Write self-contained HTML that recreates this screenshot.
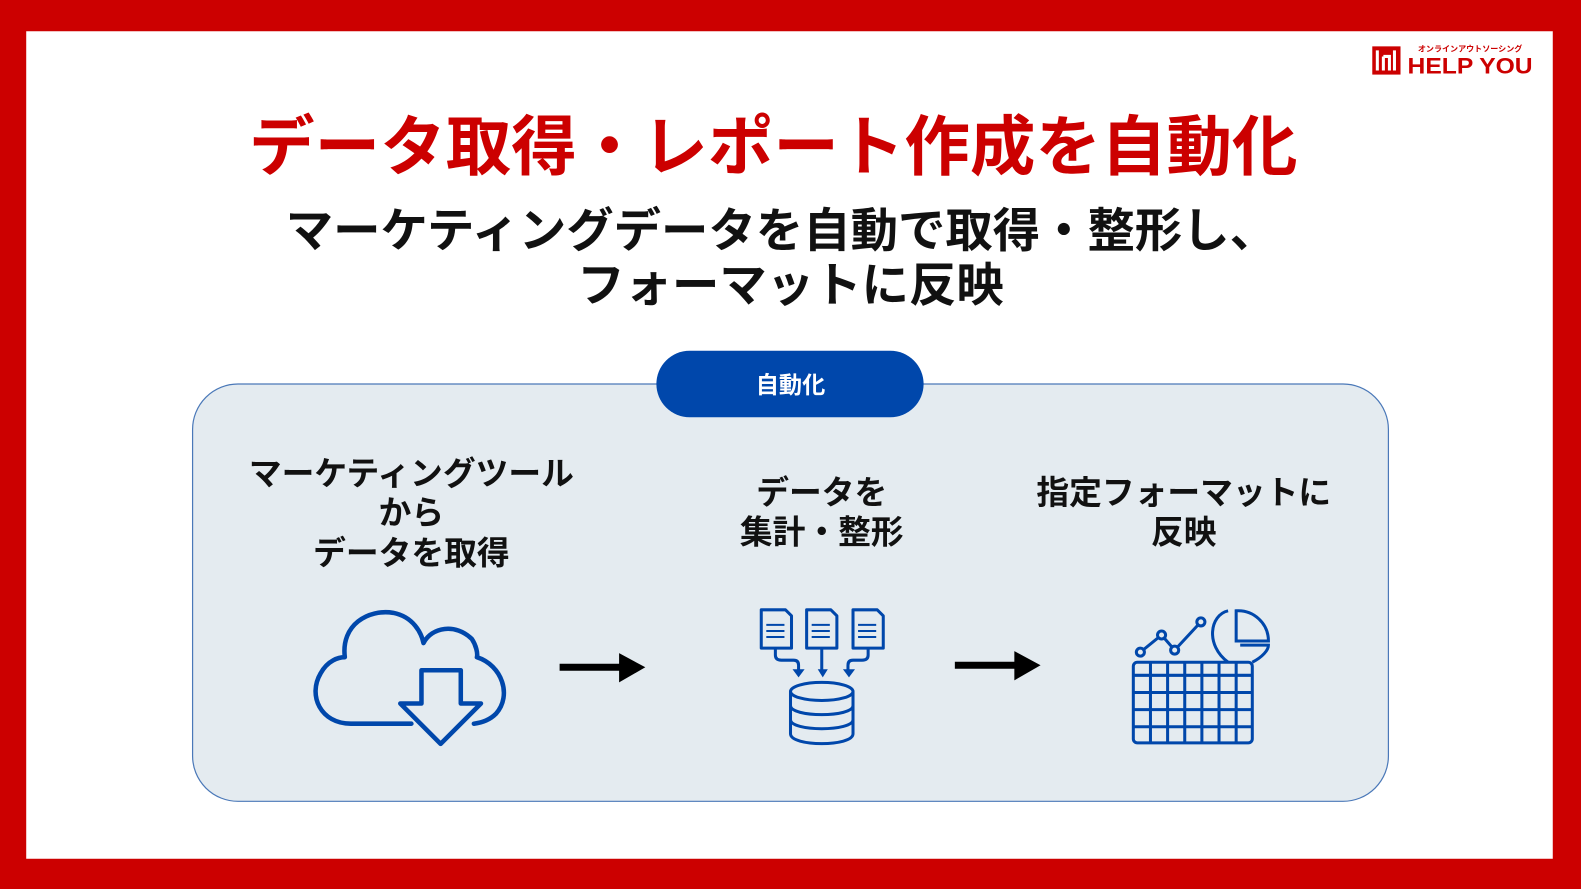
<!DOCTYPE html>
<html><head><meta charset="utf-8"><style>
html,body{margin:0;padding:0;background:#c00000;}
svg{display:block;}
text{font-family:"Liberation Sans","Noto Sans CJK JP",sans-serif;font-weight:bold;}
</style></head><body>
<svg width="1581" height="889" viewBox="0 0 1568 882" preserveAspectRatio="none" xmlns="http://www.w3.org/2000/svg">
<rect x="0" y="0" width="1568" height="882" fill="#cc0000"/>
<rect x="26" y="31" width="1514" height="821" fill="#ffffff"/>
<!-- logo -->
<rect x="1361" y="46" width="28" height="28" fill="#cc0000"/>
<path d="M1366 50 v20 M1372 56 v14 M1372 56 h6 v14 M1383 50 v20" stroke="#fff" stroke-width="3" fill="none"/>
<text x="1458" y="51" font-size="8" fill="#cc0000" text-anchor="middle">オンラインアウトソーシング</text>
<text x="1396" y="73" font-size="22" fill="#cc0000" textLength="124" lengthAdjust="spacingAndGlyphs" style="font-weight:900">HELP YOU</text>
<!-- titles -->
<text x="767" y="168" font-size="65" fill="#cc0000" text-anchor="middle">データ取得・レポート作成を自動化</text>
<text x="775" y="245" font-size="47" fill="#111" text-anchor="middle">マーケティングデータを自動で取得・整形し、</text>
<text x="784" y="299" font-size="47" fill="#111" text-anchor="middle">フォーマットに反映</text>
<!-- box -->
<rect x="191" y="381" width="1186" height="414" rx="45" fill="#e4ebf0" stroke="#4a78b8" stroke-width="1.2"/>
<rect x="651" y="348" width="265" height="66" rx="33" fill="#0047ab"/>
<text x="784" y="390" font-size="23" fill="#fff" text-anchor="middle">自動化</text>
<!-- column texts -->
<g font-size="32.5" fill="#111" text-anchor="middle">
<text x="408" y="481">マーケティングツール</text>
<text x="408" y="520">から</text>
<text x="408" y="560">データを取得</text>
<text x="815" y="500">データを</text>
<text x="815" y="539">集計・整形</text>
<text x="1174" y="500">指定フォーマットに</text>
<text x="1174" y="539">反映</text>
</g>
<!-- cloud -->
<g fill="none" stroke="#0047ab" stroke-width="4.5" stroke-linejoin="round" stroke-linecap="round">
<path d="M408 718 H348 C318 718 305 690 318 668 C325 655 336 652 342 652 C338 620 365 604 390 608 C410 612 418 628 420 638 C428 622 452 618 468 634 C472 640 474 648 473 652 C498 660 508 690 492 708 C486 714 478 717 470 718"/>
<path d="M418 665 H457 V698 H477 L437 738 L397 698 H418 Z"/>
</g>
<!-- arrows -->
<path d="M555 662 H618" stroke="#000" stroke-width="7"/>
<path d="M614 648 L640 662 L614 677 Z" fill="#000"/>
<path d="M947 660 H1010" stroke="#000" stroke-width="7"/>
<path d="M1006 646 L1032 660 L1006 675 Z" fill="#000"/>
<!-- docs & db -->
<g fill="none" stroke="#0047ab" stroke-width="3" stroke-linejoin="round">
<path d="M755 605 H779 L785 611 V643 H755 Z"/>
<path d="M800 605 H824 L830 611 V643 H800 Z"/>
<path d="M846 605 H870 L876 611 V643 H846 Z"/>
<path d="M760 620 h18 M760 626 h18 M760 632 h18 M805 620 h18 M805 626 h18 M805 632 h18 M851 620 h18 M851 626 h18 M851 632 h18" stroke-width="2"/>
<path d="M769 643 V650 Q769 655 775 655 H787 Q792 655 792 660 V668"/>
<path d="M815 643 V668"/>
<path d="M861 643 V650 Q861 655 855 655 H846 Q841 655 841 660 V668"/>
<ellipse cx="815" cy="686" rx="31" ry="9"/>
<path d="M784 686 V728 C784 741 846 741 846 728 V686"/>
<path d="M784 700 C784 712 846 712 846 700 M784 714 C784 726 846 726 846 714"/>
</g>
<path d="M786 664 l6 8 l6 -8 Z M811 664 l5 8 l5 -8 Z M836 664 l6 8 l6 -8 Z" fill="#0047ab"/>
<!-- chart -->
<g fill="none" stroke="#0047ab" stroke-width="3">
<rect x="1124" y="657" width="118" height="80" rx="4"/>
<path d="M1124 670 H1242 M1124 687 H1242 M1124 704 H1242 M1124 721 H1242"/>
<path d="M1141 657 V737 M1158 657 V737 M1175 657 V737 M1192 657 V737 M1209 657 V737 M1226 657 V737"/>
<path d="M1131 647 L1152 630 L1165 645 L1191 617"/>
<circle cx="1131" cy="647" r="4" fill="#e4ebf0"/>
<circle cx="1152" cy="630" r="4" fill="#e4ebf0"/>
<circle cx="1165" cy="645" r="4" fill="#e4ebf0"/>
<circle cx="1191" cy="617" r="4" fill="#e4ebf0"/>
<path d="M1218 657 C1195 640 1200 610 1218 606"/>
<path d="M1226 606 A30 30 0 0 1 1258 636 H1226 Z"/>
<path d="M1242 657 C1252 652 1258 645 1258 640 H1230"/>
</g>
</svg>
</body></html>
